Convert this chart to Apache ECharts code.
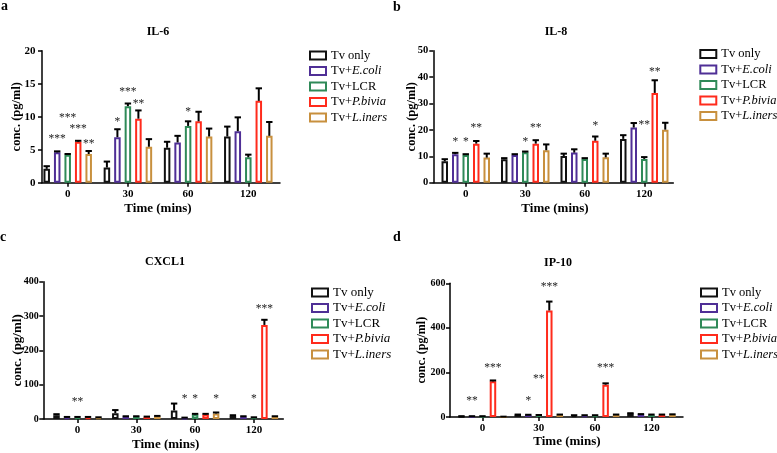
<!DOCTYPE html>
<html><head><meta charset="utf-8">
<script src="https://cdn.jsdelivr.net/npm/echarts@6/dist/echarts.min.js"></script>
<style>html,body{margin:0;padding:0;background:#fff}#c{width:777px;height:453px}</style>
</head><body><div id="c"></div>
<script>
// ---------------- DATA ----------------
const categories = ['0', '30', '60', '120'];
const seriesNames = ['Tv only', 'Tv+E.coli', 'Tv+LCR', 'Tv+P.bivia', 'Tv+L.iners'];

// rows = series (in seriesNames order), columns = time points (categories)
const il6Mean = [[2.1, 2.3, 5.3, 7.0], [4.6, 6.9, 6.1, 7.8], [4.25, 11.6, 8.6, 3.85], [6.2, 9.7, 9.3, 12.4], [4.35, 5.45, 7.0, 7.1]];
const il6Err  = [[0.4, 0.9, 0.9, 1.5], [0.15, 1.2, 1.0, 2.1], [0.1, 0.4, 0.7, 0.4], [0.15, 1.25, 1.45, 1.9], [0.45, 1.15, 1.2, 2.1]];
const il8Mean = [[8.1, 8.9, 10.1, 16.6], [10.8, 10.5, 11.4, 20.9], [10.5, 11.5, 9.0, 9.0], [14.8, 14.8, 15.9, 34.0], [9.5, 12.3, 9.6, 20.1]];
const il8Err  = [[0.8, 0.4, 0.9, 1.4], [0.5, 0.3, 1.25, 1.7], [0.3, 0.3, 0.3, 0.7], [1.0, 1.3, 1.6, 4.8], [1.5, 2.2, 1.4, 2.6]];
const cxcl1Mean = [[11, 17, 25, 9], [5, 7, 3, 7], [5, 7, 13, 4], [5, 6, 13, 274], [4, 8, 16, 7]];
const cxcl1Err  = [[3, 9, 20, 2], [1, 1, 1, 1], [1, 1, 2, 1], [1, 1, 2, 15], [1, 1, 3, 1]];
const ip10Mean = [[3, 10, 7, 16], [3, 9, 7, 12], [3, 8, 7, 10], [160, 478, 145, 10], [1, 10, 10, 11]];
const ip10Err  = [[0.5, 1, 1, 1], [0.5, 1, 1, 1], [0.5, 1, 1, 1], [4, 40, 6, 1], [0.5, 1, 1, 1]];

// significance marks: [time index, series index, text, height in data units]
const il6Stars = [[0, 1, '***', 7.0], [0, 2, '***', 10.15], [0, 3, '***', 8.5], [0, 4, '**', 6.2], [1, 1, '*', 9.65], [1, 2, '***', 14.1], [1, 3, '**', 12.3], [2, 2, '*', 11.1]];
const il8Stars = [[0, 1, '*', 16.2], [0, 2, '*', 16.2], [0, 3, '**', 21.6], [1, 2, '*', 16.2], [1, 3, '**', 21.6], [2, 3, '*', 22.5], [3, 2, '**', 22.85], [3, 3, '**', 42.9]];
const cxcl1Stars = [[0, 2, '**', 58], [2, 1, '*', 66], [2, 2, '*', 66], [2, 4, '*', 66], [3, 2, '*', 66], [3, 3, '***', 329]];
const ip10Stars = [[0, 1, '**', 83], [0, 3, '***', 229], [1, 1, '*', 83], [1, 2, '**', 181], [1, 3, '***', 596], [2, 3, '***', 229]];

const yTicksIL6 = [0, 5, 10, 15, 20];
const yTicksIL8 = [0, 10, 20, 30, 40, 50];
const yTicksCXCL1 = [0, 100, 200, 300, 400];
const yTicksIP10 = [0, 200, 400, 600];

// ---------------- STYLE / LAYOUT ----------------
const colors = ['#111111', '#4f2f96', '#2f8a58', '#ff2b1c', '#c8903e'];
const FONT = 'Liberation Serif';
const BAR_W = 6.5, BAR_PITCH = 10.5;

const panels = [
  { letter: 'a', letterPos: [1, 6], title: 'IL-6', titlePos: [158, 32], mean: il6Mean, err: il6Err, stars: il6Stars, ticks: yTicksIL6,
    plot: { left: 37.6, top: 50.7, width: 240.8, height: 132 }, frame: { left: 42, width: 238 },
    legend: { left: 304, top: 43.5, fs: 12.5 }, yNameGap: 19, yNameFs: 12.5, xNameGap: 19, yLabMargin: 6.5, yLabFs: 11 },
  { letter: 'b', letterPos: [393, 7.5], title: 'IL-8', titlePos: [556, 32], mean: il8Mean, err: il8Err, stars: il8Stars, ticks: yTicksIL8,
    plot: { left: 436, top: 50.7, width: 238, height: 132 }, frame: { left: 433.3, width: 240 },
    legend: { left: 694.3, top: 42, fs: 12.5 }, yNameGap: 15.5, yNameFs: 12.5, xNameGap: 19, yLabMargin: 5, yLabFs: 10.5 },
  { letter: 'c', letterPos: [0, 237.5], title: 'CXCL1', titlePos: [165, 262], mean: cxcl1Mean, err: cxcl1Err, stars: cxcl1Stars, ticks: yTicksCXCL1,
    plot: { left: 48.1, top: 281.7, width: 235.2, height: 137.3 }, frame: { left: 43.3, width: 240 },
    legend: { left: 306, top: 280.5, fs: 13 }, yNameGap: 19.5, yNameFs: 13, xNameGap: 19, yLabMargin: 4.5, yLabFs: 10 },
  { letter: 'd', letterPos: [393, 237.5], title: 'IP-10', titlePos: [558, 263], mean: ip10Mean, err: ip10Err, stars: ip10Stars, ticks: yTicksIP10,
    plot: { left: 454.3, top: 283.3, width: 225.3, height: 133.7 }, frame: { left: 450, width: 233 },
    legend: { left: 695, top: 280.5, fs: 12.5 }, yNameGap: 22, yNameFs: 12, xNameGap: 18, yLabMargin: 4.5, yLabFs: 10 }
];

function legendFmt(name) {
  const m = name.match(/^Tv\+(.*)$/);
  if (m && m[1] !== 'LCR') return 'Tv+{i|' + m[1] + '}';
  return name;
}

const option = { animation: false, grid: [], xAxis: [], yAxis: [], series: [], legend: [], graphic: [] };

panels.forEach((p, k) => {
  const gi = option.grid.length;
  const yMax = p.ticks[p.ticks.length - 1];
  const yInt = p.ticks[1] - p.ticks[0];
  option.grid.push({ left: p.plot.left, top: p.plot.top, width: p.plot.width, height: p.plot.height });
  option.grid.push({ left: p.frame.left, top: p.plot.top, width: p.frame.width, height: p.plot.height });

  // plot axes
  option.xAxis.push({
    type: 'category', gridIndex: gi, data: categories,
    axisLine: { show: false },
    axisTick: { show: true, alignWithLabel: true, length: 4, lineStyle: { color: '#000', width: 1.5 } },
    axisLabel: { margin: 6, color: '#000', fontFamily: FONT, fontWeight: 'bold', fontSize: 11 },
    name: 'Time (mins)', nameLocation: 'middle', nameGap: p.xNameGap, nameMoveOverlap: false,
    nameTextStyle: { color: '#000', fontFamily: FONT, fontWeight: 'bold', fontSize: 13 }
  });
  option.yAxis.push({ type: 'value', gridIndex: gi, min: 0, max: yMax, interval: yInt, show: false });
  // frame axes
  option.xAxis.push({
    type: 'value', gridIndex: gi + 1, min: 0, max: 1,
    axisLine: { show: true, onZero: false, lineStyle: { color: '#000', width: 1.5 } },
    axisTick: { show: false }, axisLabel: { show: false }, splitLine: { show: false }
  });
  option.yAxis.push({
    type: 'value', gridIndex: gi + 1, min: 0, max: yMax, interval: yInt,
    axisLine: { show: true, onZero: false, lineStyle: { color: '#000', width: 1.5 } },
    axisTick: { show: true, inside: false, length: 4, lineStyle: { color: '#000', width: 1.5 } },
    axisLabel: { margin: p.yLabMargin, color: '#000', fontFamily: FONT, fontWeight: 'bold', fontSize: p.yLabFs },
    splitLine: { show: false },
    name: 'conc. (pg/ml)', nameLocation: 'middle', nameGap: p.yNameGap, nameRotate: 90, nameMoveOverlap: false,
    nameTextStyle: { color: '#000', fontFamily: FONT, fontWeight: 'bold', fontSize: p.yNameFs }
  });

  seriesNames.forEach((name, s) => {
    option.series.push({
      type: 'bar', name: name, xAxisIndex: gi, yAxisIndex: gi,
      data: p.mean[s], barWidth: BAR_W, barGap: ((BAR_PITCH - BAR_W) / BAR_W * 100).toFixed(1) + '%',
      itemStyle: { color: '#ffffff', borderColor: colors[s], borderWidth: 2 },
      emphasis: { disabled: true }, z: 2
    });
  });

  // error bars
  const errData = [];
  p.mean.forEach((row, s) => row.forEach((m, g) => errData.push([g, m, p.err[s][g], s])));
  option.series.push({
    type: 'custom', xAxisIndex: gi, yAxisIndex: gi, data: errData, z: 5, silent: true,
    encode: { x: 0, y: 1 },
    renderItem: function (params, api) {
      const g = api.value(0), m = api.value(1), e = api.value(2), s = api.value(3);
      const b = api.coord([g, m]);
      const t = api.coord([g, m + e]);
      const x = b[0] + (s - 2) * BAR_PITCH;
      return {
        type: 'group', children: [
          { type: 'line', shape: { x1: x, y1: b[1], x2: x, y2: t[1] }, style: { stroke: '#000', lineWidth: 2 } },
          { type: 'line', shape: { x1: x - 3.2, y1: t[1], x2: x + 3.2, y2: t[1] }, style: { stroke: '#000', lineWidth: 2 } }
        ]
      };
    }
  });

  // significance stars
  const starList = p.stars;
  option.series.push({
    type: 'custom', xAxisIndex: gi, yAxisIndex: gi, z: 6, silent: true,
    data: starList.map(st => [st[0], st[3], st[1]]),
    encode: { x: 0, y: 1 },
    renderItem: function (params, api) {
      const g = api.value(0), yv = api.value(1), s = api.value(2);
      const c = api.coord([g, yv]);
      return {
        type: 'text', x: c[0] + (s - 2) * BAR_PITCH, y: c[1] + 2.5,
        style: { text: starList[params.dataIndex][2], fill: '#222', fontFamily: FONT, fontSize: 11.5, align: 'center', verticalAlign: 'middle' }
      };
    }
  });

  option.legend.push({
    orient: 'vertical', left: p.legend.left, top: p.legend.top, data: seriesNames,
    icon: 'rect', itemWidth: 16, itemHeight: 8, itemGap: 1.5, selectedMode: false,
    itemStyle: { borderWidth: 2 },
    formatter: legendFmt,
    textStyle: { color: '#000', fontFamily: FONT, fontSize: p.legend.fs, lineHeight: 14,
      rich: { i: { fontStyle: 'italic', fontFamily: FONT, fontSize: p.legend.fs, lineHeight: 14, color: '#000' } } }
  });

  option.graphic.push({
    type: 'text', x: p.letterPos[0], y: p.letterPos[1],
    style: { text: p.letter, fill: '#000', font: 'bold 14px "Liberation Serif"', align: 'left', verticalAlign: 'middle' }
  });
  option.graphic.push({
    type: 'text', x: p.titlePos[0], y: p.titlePos[1],
    style: { text: p.title, fill: '#000', font: 'bold 12px "Liberation Serif"', align: 'center', verticalAlign: 'middle' }
  });
});

const chart = echarts.init(document.getElementById('c'), null, { renderer: 'canvas' });
chart.setOption(option);
</script>
</body></html>
